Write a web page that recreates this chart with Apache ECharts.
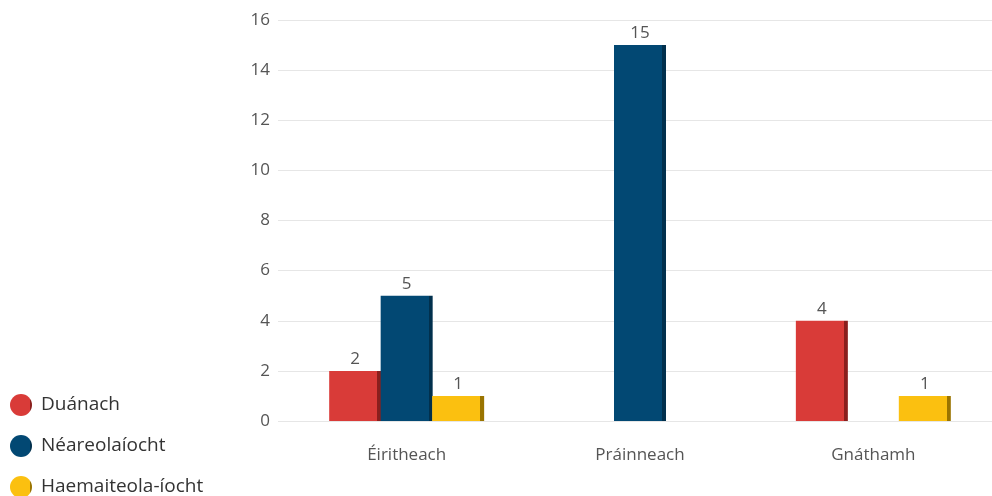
<!DOCTYPE html>
<html>
<head>
<meta charset="utf-8">
<script src="https://cdn.jsdelivr.net/npm/echarts@6/dist/echarts.min.js"></script>
<style>html,body{margin:0;padding:0;background:#fff}#c{width:992px;height:496px}</style>
</head>
<body>
<div id="c"></div>
<script>
const categories = ['Éiritheach', 'Práinneach', 'Gnáthamh'];
const seriesNames = ['Duánach', 'Néareolaíocht', 'Haemaiteola-íocht'];
const duanach = [2, null, 4];
const neareolaiocht = [5, 15, null];
const haemaiteolaiocht = [1, null, 1];
const yTicks = [0, 2, 4, 6, 8, 10, 12, 14, 16];

const colors = ['#d93b38', '#024873', '#fbc010'];
const edges = ['#8a1f1d', '#01304d', '#9a7400'];
const font = 'Open Sans';

function grad(i) {
  return new echarts.graphic.LinearGradient(0, 0, 1, 0, [
    {offset: 0, color: colors[i]},
    {offset: 0.92, color: colors[i]},
    {offset: 0.92, color: edges[i]},
    {offset: 1, color: edges[i]}
  ]);
}

const chart = echarts.init(document.getElementById('c'), null, {renderer: 'canvas'});
const values = [duanach, neareolaiocht, haemaiteolaiocht];

chart.setOption({
  animation: false,
  color: colors,
  textStyle: {fontFamily: font},
  legend: {
    orient: 'vertical',
    left: 5,
    top: 389,
    height: 140,
    padding: 5,
    icon: 'circle',
    itemWidth: 22,
    itemHeight: 22,
    itemGap: 19,
    textStyle: {fontFamily: font, fontSize: 19, color: '#333', padding: [0, 0, 0, 4]},
    data: seriesNames
  },
  grid: [
    {left: 278, right: 0, top: 20, bottom: 75},
    {left: 290, right: 2, top: 20, bottom: 75}
  ],
  xAxis: [
    {type: 'category', gridIndex: 0, data: categories, show: false},
    {
      type: 'category', gridIndex: 1, data: categories,
      axisLine: {show: false}, axisTick: {show: false},
      axisLabel: {fontFamily: font, fontSize: 17, color: '#555', margin: 26}
    }
  ],
  yAxis: [
    {
      type: 'value', gridIndex: 0, min: 0, max: 16, interval: 2,
      axisLine: {show: false}, axisTick: {show: false},
      axisLabel: {fontFamily: font, fontSize: 17, color: '#555', margin: 8,
        formatter: v => yTicks.includes(v) ? String(v) : ''},
      splitLine: {lineStyle: {color: '#e6e6e6', width: 1}}
    },
    {
      type: 'value', gridIndex: 1, min: 0, max: 16, interval: 2, show: false,
      splitLine: {show: false}
    }
  ],
  series: seriesNames.map((name, i) => ({
    name: name,
    type: 'bar',
    xAxisIndex: 1,
    yAxisIndex: 1,
    data: values[i],
    barWidth: 52,
    barGap: '-1%',
    itemStyle: {color: grad(i)},
    label: {show: true, position: 'top', distance: 3, fontFamily: font, fontSize: 17, color: '#555'}
  }))
});
</script>
</body>
</html>
